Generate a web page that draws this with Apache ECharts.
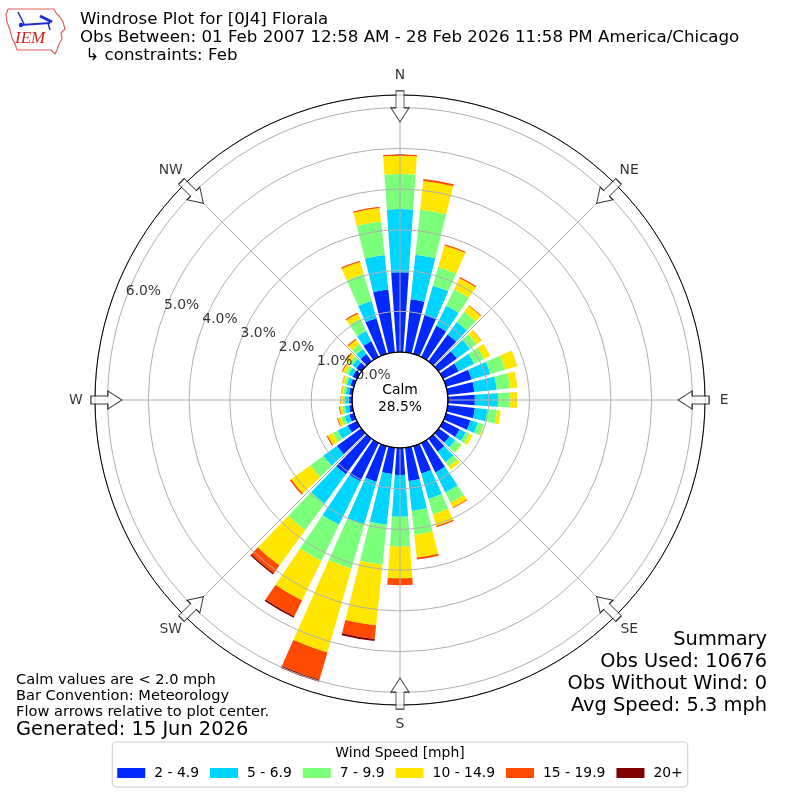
<!DOCTYPE html>
<html><head><meta charset="utf-8">
<script src="https://cdn.jsdelivr.net/npm/echarts@6/dist/echarts.min.js"></script>
<style>html,body{margin:0;padding:0;background:#fff}#c{width:800px;height:800px}</style>
</head><body><div id="c"></div>
<script>
const FONT = 'DejaVu Sans';

// ---- data ----
const dirDegrees = [0,10,20,30,40,50,60,70,80,90,100,110,120,130,140,150,160,170,180,190,200,210,220,230,240,250,260,270,280,290,300,310,320,330,340,350];
const speedBins = ['2 - 4.9','5 - 6.9','7 - 9.9','10 - 14.9','15 - 19.9','20+'];
const speed2to49   = [1.96,1.31,1.00,0.85,0.81,0.55,0.43,0.65,0.66,0.66,0.67,0.62,0.45,0.33,0.39,0.80,0.70,0.82,0.66,0.65,0.91,1.04,1.08,0.74,0.25,0.12,0.08,0.08,0.08,0.09,0.12,0.15,0.22,0.43,0.91,1.55];
const speed5to69   = [1.55,1.10,0.74,0.55,0.38,0.40,0.42,0.48,0.55,0.57,0.31,0.19,0.17,0.17,0.32,0.55,0.65,0.74,1.03,1.25,1.09,1.19,0.89,0.41,0.27,0.12,0.10,0.09,0.08,0.09,0.11,0.12,0.15,0.28,0.44,0.85];
const speed7to99   = [0.86,1.11,0.48,0.45,0.31,0.20,0.27,0.38,0.33,0.30,0.24,0.15,0.10,0.18,0.14,0.28,0.39,0.59,0.73,0.99,1.13,0.99,0.81,0.40,0.14,0.09,0.07,0.06,0.06,0.07,0.09,0.10,0.15,0.33,0.69,0.83];
const speed10to149 = [0.45,0.71,0.55,0.30,0.18,0.14,0.17,0.31,0.18,0.17,0.09,0.02,0.08,0.02,0.09,0.13,0.30,0.56,0.78,1.50,2.14,1.08,1.07,0.58,0.14,0.08,0.06,0.05,0.05,0.05,0.07,0.09,0.13,0.14,0.31,0.33];
const speed15to199 = [0.03,0.05,0.03,0.03,0.02,0.01,0,0,0,0,0,0,0,0,0,0.02,0.03,0.05,0.17,0.33,0.70,0.43,0.23,0.04,0.03,0.02,0.02,0.01,0.01,0.01,0.02,0.03,0.03,0.03,0.03,0.03];
const speed20plus  = [0,0,0,0,0,0,0,0,0,0,0,0,0,0,0,0,0,0,0,0.05,0.05,0.04,0.04,0,0,0,0,0,0,0,0,0,0,0,0,0];
const compassNames = ['N','NE','E','SE','S','SW','W','NW'];
const compassDegrees = [0,45,90,135,180,225,270,315];
const ringValues = [0,1,2,3,4,5,6];
const ringLabels = ['0.0%','1.0%','2.0%','3.0%','4.0%','5.0%','6.0%'];
const calmText = 'Calm\n28.5%';
const summaryLines = ['Summary','Obs Used: 10676','Obs Without Wind: 0','Avg Speed: 5.3 mph'];
const noteLines = ['Calm values are < 2.0 mph','Bar Convention: Meteorology','Flow arrows relative to plot center.'];
const generatedText = 'Generated: 15 Jun 2026';
const titleLines = ['Windrose Plot for [0J4] Florala','Obs Between: 01 Feb 2007 12:58 AM - 28 Feb 2026 11:58 PM America/Chicago',' \u21B3 constraints: Feb'];

// ---- styles / layout ----
const speedSeries = [speed2to49, speed5to69, speed7to99, speed10to149, speed15to199, speed20plus];
const colors = ['#0028ff','#00d5ff','#7cff7a','#ffe600','#ff4a00','#800000'];
const R_MAX = 6.31;
const ARROW_R = 6.03;
const NAME_R = 6.78;
const RING_LABEL_ANGLE = 290;
const GRID = '#b0b0b0';

const chart = echarts.init(document.getElementById('c'), null, {renderer:'canvas'});

const series = speedSeries.map((vals, i) => ({
  type: 'bar', name: speedBins[i], coordinateSystem: 'polar', polarIndex: 0,
  stack: 'ws', data: vals, barCategoryGap: '21%',
  itemStyle: {color: colors[i]}, silent: true, z: 2
}));

series.push({
  type: 'scatter', coordinateSystem: 'polar', polarIndex: 1, clip: false, silent: true, z: 20,
  data: compassDegrees.map(d => [ARROW_R, d]),
  symbol: 'path://M5,0 L13,0 L13,17 L18,17 L9,31 L0,17 L5,17 Z',
  symbolSize: [18, 31],
  symbolRotate: (v) => -v[1],
  itemStyle: {color: '#ffffff', borderColor: '#000000', borderWidth: 1}
});

series.push({
  type: 'scatter', coordinateSystem: 'polar', polarIndex: 1, clip: false, silent: true, z: 21,
  data: compassDegrees.map((d, i) => ({value: [NAME_R, d], name: compassNames[i]})),
  symbolSize: 1, itemStyle: {color: 'rgba(0,0,0,0)'},
  label: {show: true, position: 'inside', formatter: '{b}', fontFamily: FONT, fontSize: 13.9, color: '#000'}
});

series.push({
  type: 'scatter', coordinateSystem: 'polar', polarIndex: 1, clip: false, silent: true, z: 21,
  data: ringValues.map((v, i) => ({value: [v, RING_LABEL_ANGLE], name: ringLabels[i]})),
  symbolSize: 1, itemStyle: {color: 'rgba(0,0,0,0)'},
  label: {show: true, position: 'right', distance: 0, offset: [0, -8.5], formatter: '{b}', fontFamily: FONT, fontSize: 13.9, color: '#000'}
});

function txt(text, x, y, size, align, extra) {
  return Object.assign({
    type: 'text', z: 100, silent: true,
    style: {text: text, x: x, y: y, fill: '#000', font: size + 'px "' + FONT + '"',
      align: align, textAlign: align, verticalAlign: 'middle', textVerticalAlign: 'middle'}
  }, extra || {});
}

const graphics = [
  {type: 'circle', z: 100, silent: true, shape: {cx: 400, cy: 400, r: 48}, style: {fill: 'rgba(0,0,0,0)', stroke: '#000', lineWidth: 1.2}},
  txt(calmText.split('\n')[0], 400, 390, 13.9, 'center'),
  txt(calmText.split('\n')[1], 400, 407, 13.9, 'center'),
  txt('Wind Speed [mph]', 400, 753, 13.9, 'center'),
  txt(titleLines[0], 80, 20, 16.67, 'left'),
  txt(titleLines[1], 80, 38, 16.67, 'left'),
  txt(titleLines[2], 80, 55.5, 16.67, 'left'),
  txt(noteLines[0], 16, 680, 14.6, 'left'),
  txt(noteLines[1], 16, 696.5, 14.6, 'left'),
  txt(noteLines[2], 16, 712.5, 14.6, 'left'),
  txt(generatedText, 16, 730, 19.4, 'left'),
  txt(summaryLines[0], 767, 640, 19.4, 'right'),
  txt(summaryLines[1], 767, 662, 19.4, 'right'),
  txt(summaryLines[2], 767, 684, 19.4, 'right'),
  txt(summaryLines[3], 767, 706, 19.4, 'right'),
  // IEM logo
  {type: 'polyline', z: 100, silent: true,
    shape: {points: [[8,9],[54,9],[56,13],[60,17],[63,22],[65,29],[61,33],[62,39],[59,44],[57,50],[55,54],[51,50],[17,50],[15,44],[12,38],[10,30],[7,22],[6,15],[8,9]]},
    style: {stroke: '#e06060', lineWidth: 1.2, fill: 'none'}},
  {type: 'line', z: 101, silent: true, shape: {x1: 21, y1: 25, x2: 50, y2: 23}, style: {stroke: '#2030d0', lineWidth: 2}},
  {type: 'line', z: 101, silent: true, shape: {x1: 18, y1: 12, x2: 24, y2: 24}, style: {stroke: '#2030d0', lineWidth: 1.5}},
  {type: 'line', z: 101, silent: true, shape: {x1: 40, y1: 16, x2: 52, y2: 22}, style: {stroke: '#2030d0', lineWidth: 3}},
  {type: 'line', z: 101, silent: true, shape: {x1: 48, y1: 23, x2: 50, y2: 30}, style: {stroke: '#2030d0', lineWidth: 1.5}},
  {type: 'circle', z: 101, silent: true, shape: {cx: 21, cy: 25, r: 2.2}, style: {fill: '#2030d0'}},
  {type: 'text', z: 101, silent: true, style: {text: 'IEM', x: 15, y: 39, fill: '#d42020', font: 'italic 17px "Liberation Serif"', align: 'left', textAlign: 'left', verticalAlign: 'middle', textVerticalAlign: 'middle'}}
];

chart.setOption({
  animation: false,
  backgroundColor: '#ffffff',
  textStyle: {fontFamily: FONT},
  polar: [
    {center: ['50%', '50%'], radius: [48, 305]},
    {center: ['50%', '50%'], radius: [48, 305]}
  ],
  angleAxis: [
    {polarIndex: 0, type: 'category', data: dirDegrees.map(String), startAngle: 95, clockwise: true, boundaryGap: true,
      axisLine: {show: false}, axisTick: {show: false}, axisLabel: {show: false}, splitLine: {show: false}},
    {polarIndex: 1, type: 'value', min: 0, max: 360, interval: 45, startAngle: 90, clockwise: true, z: 11,
      axisLine: {show: true, lineStyle: {color: '#000', width: 1}}, axisTick: {show: false}, axisLabel: {show: false},
      splitLine: {show: true, lineStyle: {color: GRID, width: 1}}}
  ],
  radiusAxis: [
    {polarIndex: 0, type: 'value', min: 0, max: R_MAX, show: false},
    {polarIndex: 1, type: 'value', min: 0, max: R_MAX, interval: 1, z: 10,
      axisLine: {show: false}, axisTick: {show: false}, axisLabel: {show: false},
      splitLine: {show: true, lineStyle: {color: GRID, width: 1}}}
  ],
  legend: {
    data: speedBins, left: 'center', top: 742, itemWidth: 28, itemHeight: 10, itemGap: 11,
    padding: [24, 5, 7, 5], borderColor: '#cccccc', borderWidth: 1, borderRadius: 4,
    icon: 'rect', selectedMode: false,
    textStyle: {fontFamily: FONT, fontSize: 13.9, color: '#000', padding: [0, 0, 0, 4]}
  },
  series: series,
  graphic: graphics
});
</script>
</body></html>
